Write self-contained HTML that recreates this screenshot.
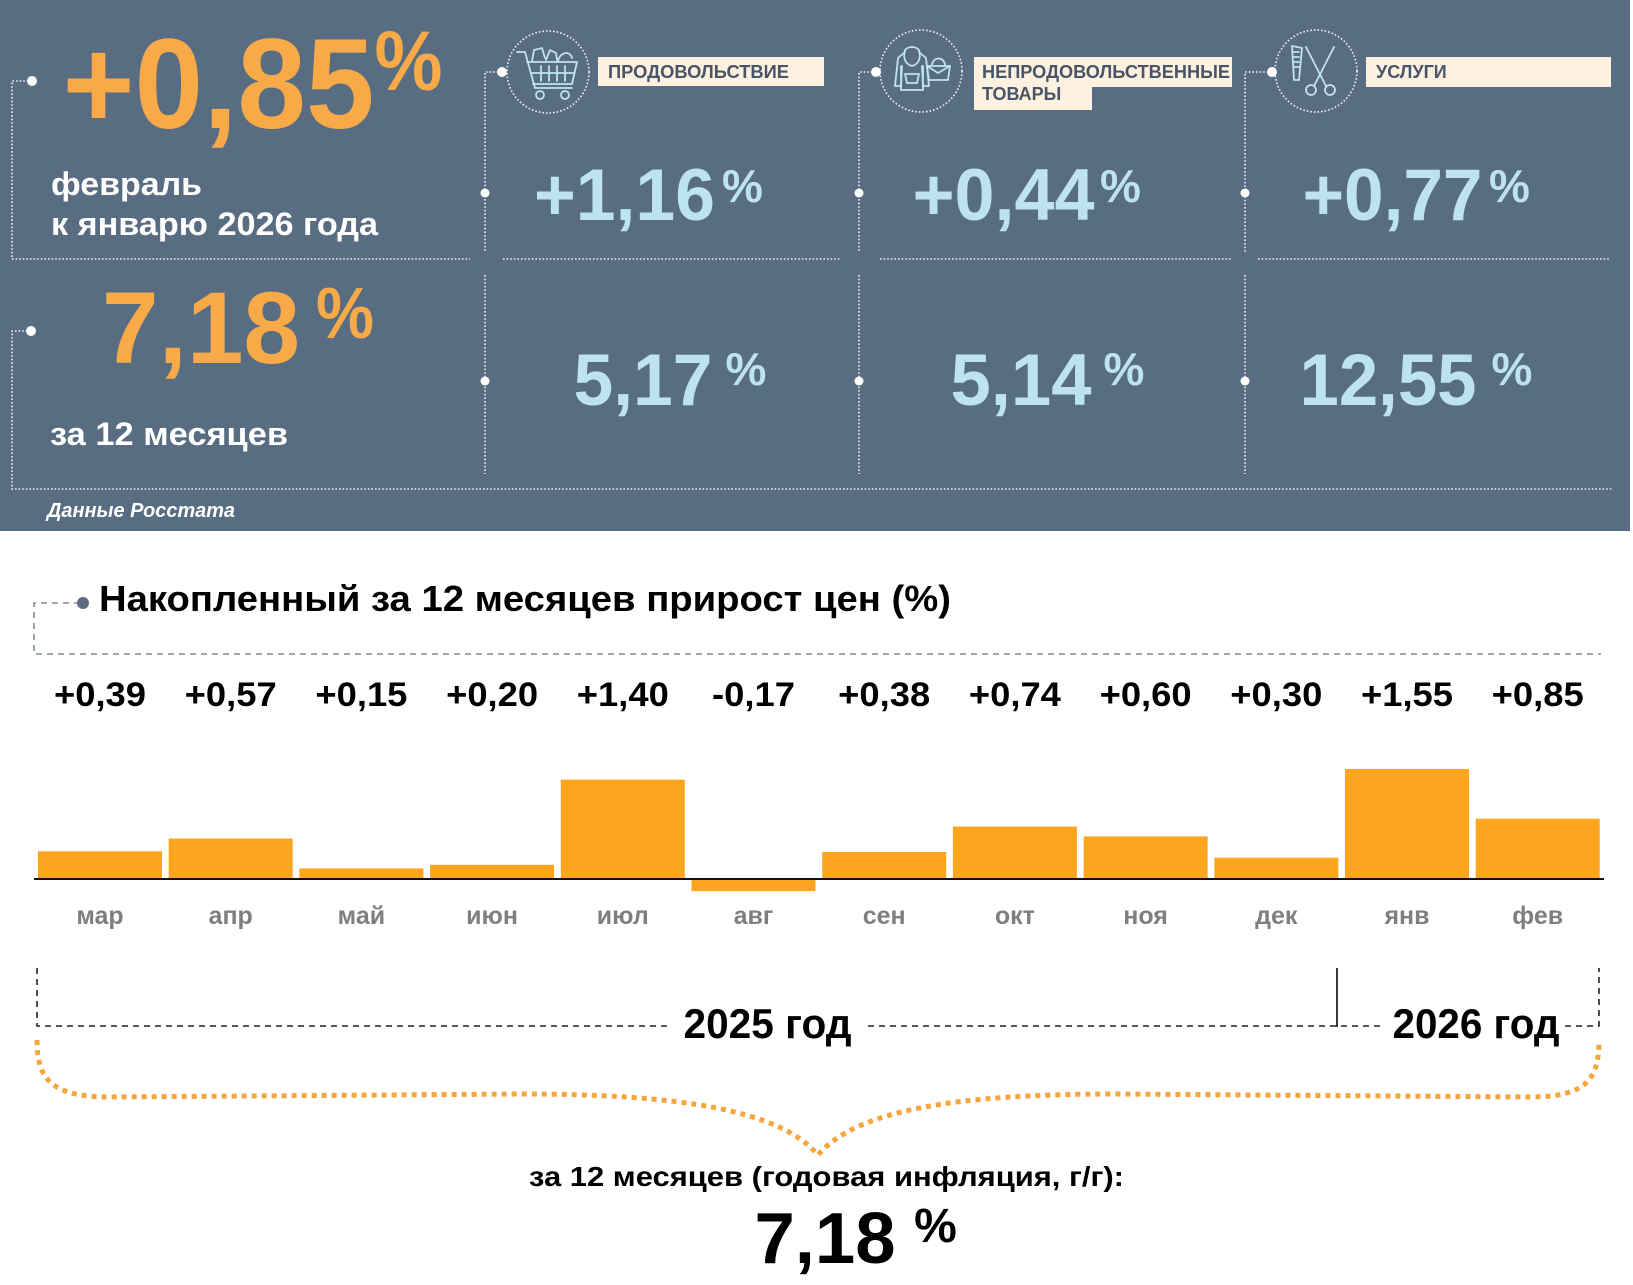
<!DOCTYPE html>
<html lang="ru">
<head>
<meta charset="utf-8">
<style>
  html,body{margin:0;padding:0;background:#ffffff;}
  body{width:1633px;height:1285px;overflow:hidden;position:relative;}
  svg{position:absolute;left:0;top:0;}
  text{font-family:"Liberation Sans","DejaVu Sans",sans-serif;font-weight:bold;}
</style>
</head>
<body>
<svg width="1633" height="1285" viewBox="0 0 1633 1285" xmlns="http://www.w3.org/2000/svg">
  <!-- ===== TOP PANEL ===== -->
  <rect x="0" y="0" width="1630" height="531" fill="#586c82"/>

  <g fill="none" stroke="#eef2f6" stroke-width="1.6" stroke-dasharray="1.6 2">
    <path d="M32,81 H12 V259 H470"/>
    <path d="M31,331 H12 V489 H1612"/>
    <path d="M503,259 H840"/>
    <path d="M880,259 H1232"/>
    <path d="M1258,259 H1609"/>
    <path d="M502,72 H485 V253"/>
    <path d="M485,275 V474"/>
    <path d="M876,72 H859 V253"/>
    <path d="M859,275 V474"/>
    <path d="M1272,72 H1245 V253"/>
    <path d="M1245,275 V474"/>
    <circle cx="548" cy="72" r="41"/>
    <circle cx="921" cy="71" r="41"/>
    <circle cx="1316" cy="71" r="41"/>
  </g>
  <g fill="#ffffff">
    <circle cx="32" cy="81" r="5"/>
    <circle cx="31" cy="331" r="5"/>
    <circle cx="502" cy="72" r="5"/>
    <circle cx="485" cy="193" r="4.5"/>
    <circle cx="485" cy="381" r="4.5"/>
    <circle cx="876" cy="72" r="5"/>
    <circle cx="859" cy="193" r="4.5"/>
    <circle cx="859" cy="381" r="4.5"/>
    <circle cx="1272" cy="72" r="5"/>
    <circle cx="1245" cy="193" r="4.5"/>
    <circle cx="1245" cy="381" r="4.5"/>
  </g>

  <!-- icons -->
  <g fill="none" stroke="#bfe3f3" stroke-width="1.8" stroke-linejoin="round" stroke-linecap="round">
    <path d="M517,52 H525 L535,88 H572"/>
    <path d="M527,62 H577 L572,84 H533"/>
    <path d="M541,66 V81 M549,66 V81 M557,66 V81 M565,66 V81 M531,73 H573"/>
    <circle cx="540" cy="95" r="4"/>
    <circle cx="565" cy="95" r="4"/>
    <path d="M532,61 L534,50 L542,48 L545,58 M546,60 L550,50 L556,53 L557,60 M558,61 C560,52 570,50 572,58"/>
    <path d="M905,50 C903,58 905,64 912,66 C919,64 921,58 919,50 C915,46 909,46 905,50 Z"/>
    <path d="M905,52 L898,58 L895,86 H901 L902,66 M919,52 L926,58 L929,86 H923 L922,66"/>
    <path d="M901,66 V90 H923 V66"/>
    <path d="M905,74 H919 L917,83 H907 Z"/>
    <path d="M927,66 H950 L948,80 H929 Z"/>
    <path d="M932,66 C932,56 945,56 945,66"/>
    <path d="M927,66 L938,73 L950,66"/>
    <path d="M1292,46 L1302,48 L1299,80 L1294,80 Z"/>
    <path d="M1294,52 H1299 M1294,57 H1299 M1294,62 H1299 M1294,67 H1299"/>
    <path d="M1306,47 L1326,86 M1334,47 L1314,86"/>
    <circle cx="1311" cy="90" r="5"/>
    <circle cx="1330" cy="90" r="5"/>
  </g>

  <!-- category labels -->
  <rect x="598" y="57" width="226" height="29" fill="#fef1df"/>
  <text x="608" y="78" font-size="18" fill="#485467" textLength="181" lengthAdjust="spacingAndGlyphs">ПРОДОВОЛЬСТВИЕ</text>
  <rect x="974" y="57" width="258" height="30" fill="#fef1df"/>
  <rect x="974" y="86" width="118" height="24" fill="#fef1df"/>
  <text x="982" y="78" font-size="18" fill="#485467" textLength="248" lengthAdjust="spacingAndGlyphs">НЕПРОДОВОЛЬСТВЕННЫЕ</text>
  <text x="982" y="100" font-size="18" fill="#485467">ТОВАРЫ</text>
  <rect x="1366" y="57" width="245" height="30" fill="#fef1df"/>
  <text x="1376" y="78" font-size="18" fill="#485467">УСЛУГИ</text>

  <!-- main orange numbers -->
  <text x="218.5" y="128" font-size="128" fill="#f8aa48" text-anchor="middle" textLength="312" lengthAdjust="spacingAndGlyphs">+0,85</text>
  <text x="408.5" y="90" font-size="84" fill="#f8aa48" text-anchor="middle" textLength="68" lengthAdjust="spacingAndGlyphs">%</text>
  <text x="51" y="195" font-size="32" fill="#ffffff" textLength="151" lengthAdjust="spacingAndGlyphs">февраль</text>
  <text x="51" y="235" font-size="32" fill="#ffffff" textLength="327" lengthAdjust="spacingAndGlyphs">к январю 2026 года</text>

  <text x="201" y="363" font-size="102" fill="#f8aa48" text-anchor="middle" textLength="198" lengthAdjust="spacingAndGlyphs">7,18</text>
  <text x="345" y="338" font-size="72" fill="#f8aa48" text-anchor="middle" textLength="58" lengthAdjust="spacingAndGlyphs">%</text>
  <text x="50" y="445" font-size="32" fill="#ffffff" textLength="238" lengthAdjust="spacingAndGlyphs">за 12 месяцев</text>
  <text x="47" y="517" font-size="20" fill="#ffffff" font-style="italic" textLength="188" lengthAdjust="spacingAndGlyphs">Данные Росстата</text>

  <!-- blue numbers -->
  <g fill="#bde3f3">
    <text x="624.5" y="220" font-size="73" text-anchor="middle" textLength="181" lengthAdjust="spacingAndGlyphs">+1,16</text>
    <text x="742.5" y="202" font-size="46" text-anchor="middle">%</text>
    <text x="1003.5" y="220" font-size="73" text-anchor="middle" textLength="182" lengthAdjust="spacingAndGlyphs">+0,44</text>
    <text x="1120.5" y="202" font-size="46" text-anchor="middle">%</text>
    <text x="1392.5" y="220" font-size="73" text-anchor="middle" textLength="180" lengthAdjust="spacingAndGlyphs">+0,77</text>
    <text x="1509.5" y="202" font-size="46" text-anchor="middle">%</text>

    <text x="643" y="405" font-size="73" text-anchor="middle" textLength="139" lengthAdjust="spacingAndGlyphs">5,17</text>
    <text x="746" y="385" font-size="46" text-anchor="middle">%</text>
    <text x="1021" y="405" font-size="73" text-anchor="middle" textLength="141" lengthAdjust="spacingAndGlyphs">5,14</text>
    <text x="1124" y="385" font-size="46" text-anchor="middle">%</text>
    <text x="1388" y="405" font-size="73" text-anchor="middle" textLength="177" lengthAdjust="spacingAndGlyphs">12,55</text>
    <text x="1512" y="385" font-size="46" text-anchor="middle">%</text>
  </g>

  <!-- ===== CHART ===== -->
  <path d="M80,603 H34 V654 H1601" fill="none" stroke="#7f8c99" stroke-width="1.6" stroke-dasharray="6 5"/>
  <circle cx="83" cy="603" r="6" fill="#5a6d83"/>
  <text x="99" y="611" font-size="36" fill="#000000" textLength="852" lengthAdjust="spacingAndGlyphs">Накопленный за 12 месяцев прирост цен (%)</text>

  <g font-size="34" fill="#000000" text-anchor="middle">
    <text x="100" y="706" textLength="92" lengthAdjust="spacingAndGlyphs">+0,39</text>
    <text x="230.7" y="706" textLength="92" lengthAdjust="spacingAndGlyphs">+0,57</text>
    <text x="361.4" y="706" textLength="92" lengthAdjust="spacingAndGlyphs">+0,15</text>
    <text x="492.1" y="706" textLength="92" lengthAdjust="spacingAndGlyphs">+0,20</text>
    <text x="622.8" y="706" textLength="92" lengthAdjust="spacingAndGlyphs">+1,40</text>
    <text x="753.5" y="706" textLength="83" lengthAdjust="spacingAndGlyphs">-0,17</text>
    <text x="884.2" y="706" textLength="92" lengthAdjust="spacingAndGlyphs">+0,38</text>
    <text x="1014.9" y="706" textLength="92" lengthAdjust="spacingAndGlyphs">+0,74</text>
    <text x="1145.6" y="706" textLength="92" lengthAdjust="spacingAndGlyphs">+0,60</text>
    <text x="1276.3" y="706" textLength="92" lengthAdjust="spacingAndGlyphs">+0,30</text>
    <text x="1407" y="706" textLength="92" lengthAdjust="spacingAndGlyphs">+1,55</text>
    <text x="1537.7" y="706" textLength="92" lengthAdjust="spacingAndGlyphs">+0,85</text>
  </g>

  <g fill="#fca61f">
    <rect x="38" y="851.3" width="124" height="27.7"/>
    <rect x="168.7" y="838.5" width="124" height="40.5"/>
    <rect x="299.4" y="868.4" width="124" height="10.6"/>
    <rect x="430.1" y="864.8" width="124" height="14.2"/>
    <rect x="560.8" y="779.6" width="124" height="99.4"/>
    <rect x="691.5" y="879" width="124" height="12.1"/>
    <rect x="822.2" y="852" width="124" height="27"/>
    <rect x="952.9" y="826.5" width="124" height="52.5"/>
    <rect x="1083.6" y="836.4" width="124" height="42.6"/>
    <rect x="1214.3" y="857.7" width="124" height="21.3"/>
    <rect x="1345" y="769" width="124" height="110"/>
    <rect x="1475.7" y="818.7" width="124" height="60.3"/>
  </g>
  <line x1="34" y1="879" x2="1604" y2="879" stroke="#111111" stroke-width="2"/>

  <g font-size="25" fill="#7f7f7f" text-anchor="middle">
    <text x="100" y="924">мар</text>
    <text x="230.7" y="924">апр</text>
    <text x="361.4" y="924">май</text>
    <text x="492.1" y="924">июн</text>
    <text x="622.8" y="924">июл</text>
    <text x="753.5" y="924">авг</text>
    <text x="884.2" y="924">сен</text>
    <text x="1014.9" y="924">окт</text>
    <text x="1145.6" y="924">ноя</text>
    <text x="1276.3" y="924">дек</text>
    <text x="1407" y="924">янв</text>
    <text x="1537.7" y="924">фев</text>
  </g>

  <!-- year brackets -->
  <g fill="none" stroke="#222222" stroke-width="1.6" stroke-dasharray="6 5">
    <path d="M37,968 V1026 H667"/>
    <path d="M868,1026 H1384"/>
    <path d="M1565,1026 H1599 V968"/>
  </g>
  <line x1="1337" y1="968" x2="1337" y2="1027" stroke="#222222" stroke-width="1.8"/>
  <text x="767.5" y="1038" font-size="42" fill="#000000" text-anchor="middle" textLength="168" lengthAdjust="spacingAndGlyphs">2025 год</text>
  <text x="1476" y="1038" font-size="42" fill="#000000" text-anchor="middle" textLength="167" lengthAdjust="spacingAndGlyphs">2026 год</text>

  <!-- orange brace -->
  <path d="M37,1040 C37,1078 50,1097 110,1097 L520,1094 C680,1094 780,1110 818,1155 C856,1110 956,1094 1116,1094 L1530,1097 C1588,1097 1599,1078 1599,1040"
        fill="none" stroke="#f6a63c" stroke-width="5" stroke-dasharray="5 5"/>

  <text x="826.5" y="1186" font-size="28" fill="#000000" text-anchor="middle" textLength="595" lengthAdjust="spacingAndGlyphs">за 12 месяцев (годовая инфляция, г/г):</text>
  <text x="825" y="1263" font-size="72" fill="#000000" text-anchor="middle" textLength="141" lengthAdjust="spacingAndGlyphs">7,18</text>
  <text x="935.5" y="1242" font-size="48" fill="#000000" text-anchor="middle">%</text>
</svg>
</body>
</html>
